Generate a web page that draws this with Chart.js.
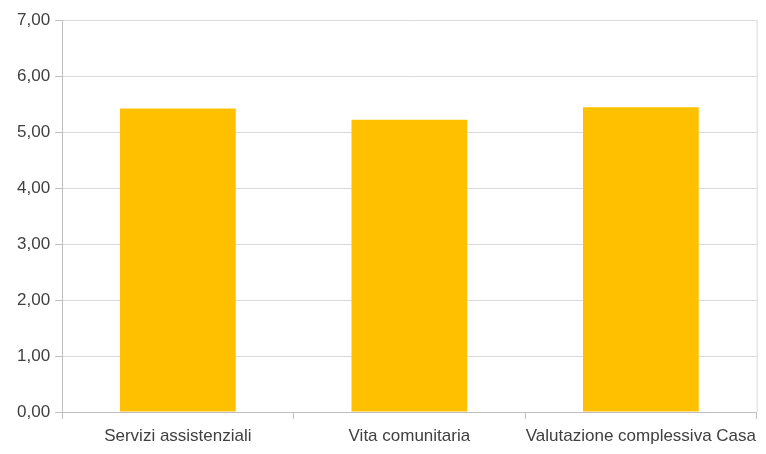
<!DOCTYPE html>
<html>
<head>
<meta charset="utf-8">
<script src="https://cdn.jsdelivr.net/npm/chart.js@4"></script>
<style>
    html, body { margin: 0; padding: 0; background: #fff; }
    #wrap { width: 766px; height: 454px; }
</style>
</head>
<body>
<div id="wrap"><canvas id="chart"></canvas></div>
<script>
const categories = ['Servizi assistenziali', 'Vita comunitaria', 'Valutazione complessiva Casa'];
const values = [5.42, 5.22, 5.44];
const yMin = 0;
const yMax = 7;
const yStep = 1;

// Right border of the plot area, like the original spreadsheet frame
const rightBorder = {
    id: 'rightBorder',
    afterDraw(chart) {
        const { ctx, chartArea } = chart;
        ctx.save();
        ctx.strokeStyle = '#d9d9d9';
        ctx.lineWidth = 1;
        ctx.beginPath();
        ctx.moveTo(chartArea.right + 0.5, chartArea.top);
        ctx.lineTo(chartArea.right + 0.5, chartArea.bottom);
        ctx.stroke();
        ctx.restore();
    }
};

const ctx = document.getElementById('chart').getContext('2d');
new Chart(ctx, {
    type: 'bar',
    data: {
        labels: categories,
        datasets: [{
            data: values,
            backgroundColor: '#FFC000',
            barPercentage: 0.5,
            categoryPercentage: 1.0
        }]
    },
    options: {
        responsive: true,
        maintainAspectRatio: false,
        animation: false,
        layout: { padding: { top: 20, right: 6, left: 12, bottom: 0 } },
        plugins: {
            legend: { display: false },
            tooltip: { enabled: false }
        },
        scales: {
            x: {
                offset: true,
                grid: {
                    offset: true,
                    drawOnChartArea: false,
                    tickLength: 7,
                    color: '#bfbfbf'
                },
                border: { color: '#bfbfbf' },
                ticks: {
                    color: '#404040',
                    font: { family: 'Liberation Sans, Arial, sans-serif', size: 17, lineHeight: 1 },
                    maxRotation: 0,
                    autoSkip: false,
                    padding: 9
                }
            },
            y: {
                min: yMin,
                max: yMax,
                grid: {
                    color: '#d9d9d9',
                    tickLength: 7,
                    tickColor: '#bfbfbf'
                },
                border: { color: '#bfbfbf' },
                ticks: {
                    stepSize: yStep,
                    color: '#404040',
                    font: { family: 'Liberation Sans, Arial, sans-serif', size: 17 },
                    padding: 5,
                    callback: v => v.toFixed(2).replace('.', ',')
                }
            }
        }
    },
    plugins: [rightBorder]
});
</script>
</body>
</html>
